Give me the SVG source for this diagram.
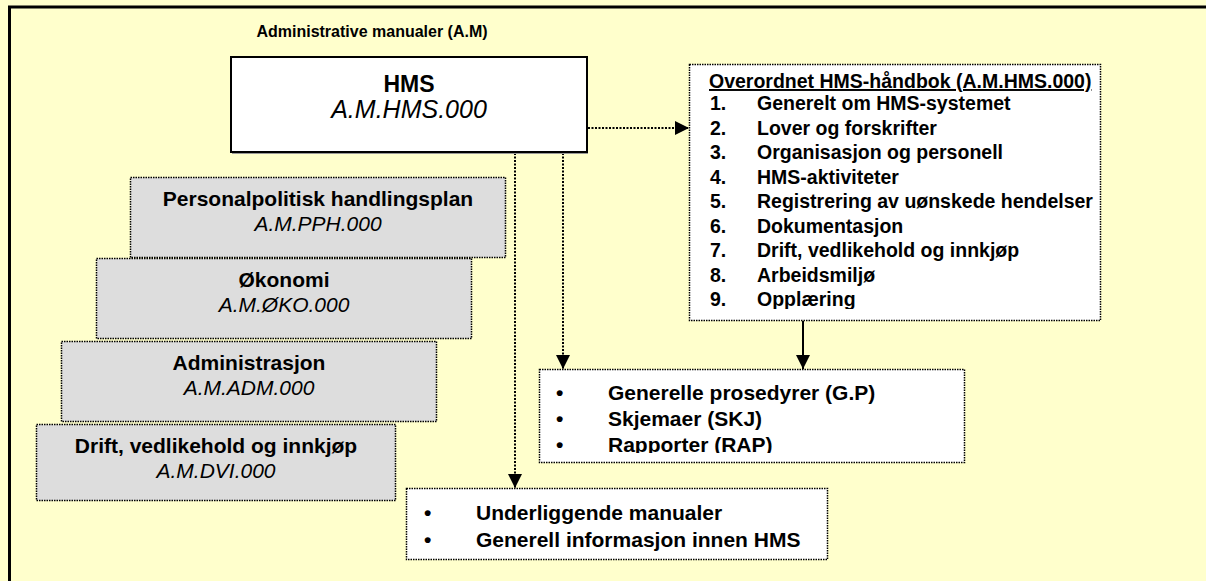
<svg xmlns="http://www.w3.org/2000/svg" width="1206" height="581" viewBox="0 0 1206 581">
<style>
text{font-family:"Liberation Sans",Arial,sans-serif;fill:#000}
.b{font-weight:bold}
.i{font-style:italic}
.g{fill:#DDDDDD;stroke:#000;stroke-width:1.5;stroke-dasharray:1.5 1}
.w{fill:#FFFFFF;stroke:#000;stroke-width:1.5;stroke-dasharray:1.5 1}
.dot{fill:none;stroke:#000;stroke-width:2;stroke-dasharray:2 1.5}
.sol{fill:none;stroke:#000;stroke-width:2}
</style>
<defs>
<marker id="ah" viewBox="0 0 14 14" refX="14" refY="7" markerWidth="14" markerHeight="14" markerUnits="userSpaceOnUse" orient="auto">
<path d="M0,0 L14,7 L0,14 Z" fill="#000"/>
</marker>
<clipPath id="cO"><rect x="689" y="64" width="412" height="245"/></clipPath>
<clipPath id="cG"><rect x="539" y="369" width="426" height="84"/></clipPath>
</defs>
<rect x="0" y="0" width="1206" height="581" fill="#FFFFCC"/>
<rect x="9.5" y="7" width="1260" height="650" fill="#FFFFCC" stroke="#000" stroke-width="3"/>

<g id="title">
<text class="b" x="372" y="37" font-size="16" text-anchor="middle">Administrative manualer (A.M)</text>
</g>

<g id="connectors">
<line class="dot" x1="588" y1="128" x2="689" y2="128" marker-end="url(#ah)"/>
<line class="dot" x1="515" y1="153" x2="515" y2="488" marker-end="url(#ah)"/>
<line class="dot" x1="563" y1="153" x2="563" y2="369" marker-end="url(#ah)"/>
<line class="sol" x1="803" y1="321" x2="803" y2="369" marker-end="url(#ah)"/>
</g>

<g id="hms">
<rect x="232" y="58" width="356" height="96" fill="#999999"/>
<rect x="231" y="57" width="356" height="95" fill="#FFFFFF" stroke="#000" stroke-width="2"/>
<text class="b" x="409" y="92" font-size="23" text-anchor="middle">HMS</text>
<text class="i" x="409" y="118" font-size="25" text-anchor="middle">A.M.HMS.000</text>
</g>

<g id="pph">
<rect class="g" x="130.5" y="177.5" width="375" height="80"/>
<text class="b" x="318" y="206" font-size="21" text-anchor="middle">Personalpolitisk handlingsplan</text>
<text class="i" x="318" y="231" font-size="21" text-anchor="middle">A.M.PPH.000</text>
</g>
<g id="oko">
<rect class="g" x="96.5" y="258.5" width="375" height="80"/>
<text class="b" x="284" y="287" font-size="21" text-anchor="middle">Økonomi</text>
<text class="i" x="284" y="312" font-size="21" text-anchor="middle">A.M.ØKO.000</text>
</g>
<g id="adm">
<rect class="g" x="61.5" y="341.5" width="375" height="80"/>
<text class="b" x="249" y="370" font-size="21" text-anchor="middle">Administrasjon</text>
<text class="i" x="249" y="395" font-size="21" text-anchor="middle">A.M.ADM.000</text>
</g>
<g id="dvi">
<rect class="g" x="36.5" y="424.5" width="359" height="76"/>
<text class="b" x="216" y="453" font-size="21" text-anchor="middle">Drift, vedlikehold og innkjøp</text>
<text class="i" x="216" y="478" font-size="21" text-anchor="middle">A.M.DVI.000</text>
</g>

<g id="overordnet">
<rect class="w" x="689.5" y="64.5" width="411" height="256"/>
<g clip-path="url(#cO)" class="b" font-size="19.5">
<text x="709" y="88" text-decoration="underline">Overordnet HMS-håndbok (A.M.HMS.000)</text>
<text x="710" y="110">1.</text><text x="757" y="110">Generelt om HMS-systemet</text>
<text x="710" y="134.5">2.</text><text x="757" y="134.5">Lover og forskrifter</text>
<text x="710" y="159">3.</text><text x="757" y="159">Organisasjon og personell</text>
<text x="710" y="183.5">4.</text><text x="757" y="183.5">HMS-aktiviteter</text>
<text x="710" y="208">5.</text><text x="757" y="208">Registrering av uønskede hendelser</text>
<text x="710" y="232.5">6.</text><text x="757" y="232.5">Dokumentasjon</text>
<text x="710" y="257">7.</text><text x="757" y="257">Drift, vedlikehold og innkjøp</text>
<text x="710" y="281.5">8.</text><text x="757" y="281.5">Arbeidsmiljø</text>
<text x="710" y="306">9.</text><text x="757" y="306">Opplæring</text>
</g>
</g>

<g id="generelle">
<rect class="w" x="539.5" y="369.5" width="425" height="93"/>
<g clip-path="url(#cG)" class="b" font-size="21">
<text x="556" y="400">•</text><text x="608" y="400">Generelle prosedyrer (G.P)</text>
<text x="556" y="426">•</text><text x="608" y="426">Skjemaer (SKJ)</text>
<text x="556" y="452">•</text><text x="608" y="452">Rapporter (RAP)</text>
</g>
</g>

<g id="underliggende">
<rect class="w" x="406.5" y="488.5" width="421" height="71"/>
<g class="b" font-size="21">
<text x="424" y="520">•</text><text x="476" y="520">Underliggende manualer</text>
<text x="424" y="547">•</text><text x="476" y="547">Generell informasjon innen HMS</text>
</g>
</g>
</svg>
